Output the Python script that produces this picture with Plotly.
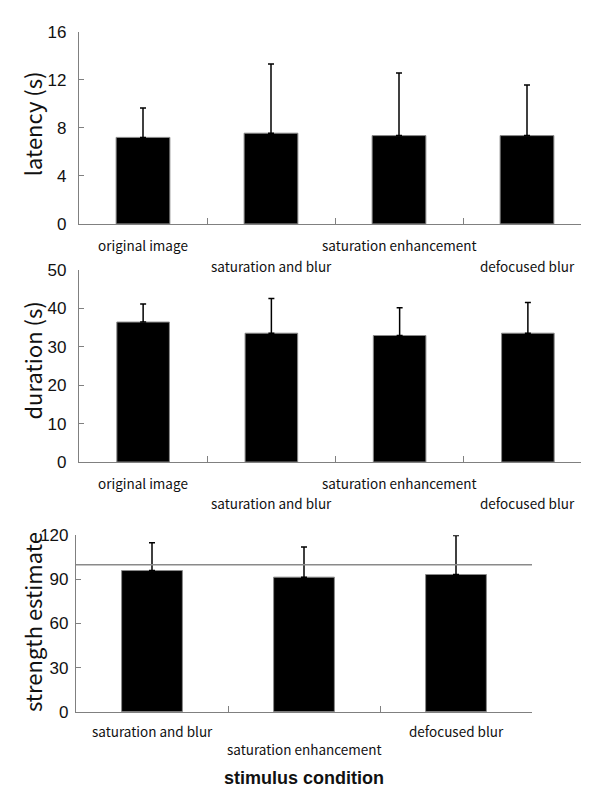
import plotly.graph_objects as go

# ---------------- data ----------------
cats4 = ["original image", "saturation and blur", "saturation enhancement", "defocused blur"]
cats3 = ["saturation and blur", "saturation enhancement", "defocused blur"]

latency = [7.2, 7.55, 7.35, 7.35]
latency_err = [2.45, 5.75, 5.2, 4.2]
latency_ticks = [0, 4, 8, 12, 16]

duration = [36.4, 33.5, 32.9, 33.5]
duration_err = [4.7, 9.0, 7.2, 8.0]
duration_ticks = [0, 10, 20, 30, 40, 50]

strength = [96.0, 91.5, 93.3]
strength_err = [18.8, 20.5, 26.5]
strength_ticks = [0, 30, 60, 90, 120]
strength_reference = 100

label_rows4 = [0, 1, 0, 1]
label_rows3 = [0, 1, 0]

# ---------------- layout helpers ----------------
W, H = 589, 789
def px(x):
    return x / W
def py(y):
    return 1 - y / H

AX = "#808080"
LBL_FONT = dict(family="Noto Sans CJK JP, Liberation Sans, sans-serif", size=13.5, color="#111")
TICK_FONT = dict(family="Liberation Sans, Arial, sans-serif", size=17, color="#111")
TITLE_FONT = dict(family="Noto Sans CJK JP, Liberation Sans, sans-serif", size=22, color="#111")

fig = go.Figure()

def add_bars(cats, vals, errs, xa, ya, width):
    fig.add_trace(go.Bar(
        x=cats, y=vals, xaxis=xa, yaxis=ya, width=width,
        marker=dict(color="black", line=dict(color="#8a8a8a", width=1)),
        error_y=dict(type="data", array=errs, arrayminus=[0] * len(errs),
                     symmetric=False, color="black", thickness=1.5, width=3),
        showlegend=False, hoverinfo="x+y",
    ))

add_bars(cats4, latency, latency_err, "x", "y", 0.42)
add_bars(cats4, duration, duration_err, "x2", "y2", 0.41)
add_bars(cats3, strength, strength_err, "x3", "y3", 0.40)

def xaxis(domain, anchor):
    return dict(domain=domain, anchor=anchor, type="category",
                showline=True, linecolor=AX, linewidth=1.2,
                ticks="inside", tickson="boundaries", ticklen=6, tickcolor=AX,
                showticklabels=False, showgrid=False, zeroline=False, fixedrange=True)

def yaxis(domain, anchor, rng, tickvals, standoff):
    return dict(domain=domain, anchor=anchor, range=rng, tickvals=tickvals,
                showline=True, linecolor=AX, linewidth=1.2,
                ticks="inside", ticklen=5, tickcolor=AX,
                tickfont=TICK_FONT, ticklabelstandoff=standoff,
                showgrid=False, zeroline=False, fixedrange=True)

fig.update_layout(
    width=W, height=H,
    margin=dict(l=0, r=0, t=0, b=0),
    paper_bgcolor="white", plot_bgcolor="white",
    bargap=0.58,
    xaxis=xaxis([px(71), px(583)], "y"),
    yaxis=yaxis([py(212), py(15)], "x", [0, 16], latency_ticks, 8),
    xaxis2=xaxis([px(71), px(584)], "y2"),
    yaxis2=yaxis([py(456), py(259)], "x2", [0, 50], duration_ticks, 8),
    xaxis3=xaxis([px(68), px(524)], "y3"),
    yaxis3=yaxis([py(712), py(531)], "x3", [0, 120], strength_ticks, 3),
)

# reference line at 100 in the bottom panel
fig.add_shape(type="line", xref="x3 domain", yref="y3",
              x0=0, x1=1, y0=strength_reference, y1=strength_reference,
              line=dict(color="#8a8a8a", width=1.5), layer="above")

# staggered category labels
def add_labels(cats, rows, xref, row_y):
    for c, r in zip(cats, rows):
        fig.add_annotation(x=c, xref=xref, y=py(row_y[r]), yref="paper",
                           text=c, showarrow=False, font=LBL_FONT,
                           xanchor="center", yanchor="middle")

add_labels(cats4, label_rows4, "x", [234, 255])
add_labels(cats4, label_rows4, "x2", [477, 498])
add_labels(cats3, label_rows3, "x3", [732, 750])

# y axis titles
for text, yc, xc in [("latency (s)", 110, 24), ("duration (s)", 352, 24), ("strength estimate", 620, 24)]:
    fig.add_annotation(x=px(xc), y=py(yc), xref="paper", yref="paper",
                       text=text, textangle=-90, showarrow=False, font=TITLE_FONT,
                       xanchor="center", yanchor="middle")

# x axis title
fig.add_annotation(x=0.5, xref="x3 domain", y=py(780), yref="paper",
                   text="<b>stimulus condition</b>", showarrow=False,
                   font=dict(family="Liberation Sans, Arial, sans-serif", size=18, color="#111"),
                   xanchor="center", yanchor="middle")

fig.write_html("out.html")
